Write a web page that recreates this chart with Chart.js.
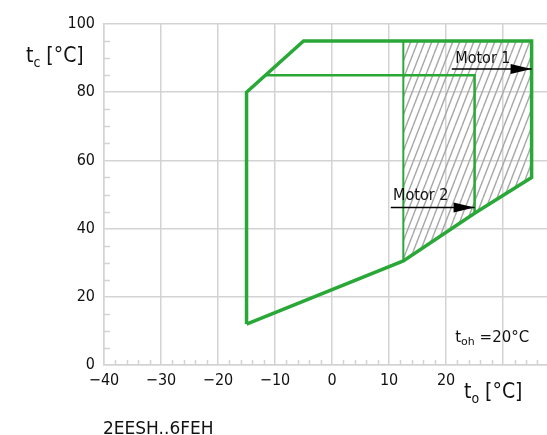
<!DOCTYPE html>
<html>
<head>
<meta charset="utf-8">
<script src="https://cdn.jsdelivr.net/npm/chart.js@4.4.0/dist/chart.umd.min.js"></script>
<style>
  html, body { margin: 0; padding: 0; background: #fff; }
  #wrap { position: relative; width: 547px; height: 435px; }
</style>
</head>
<body>
<div id="wrap"><canvas id="chart" width="547" height="435"></canvas></div>
<script>
// axis ticks
const xTicks = [-40, -30, -20, -10, 0, 10, 20, 30];
const yTicks = [0, 20, 40, 60, 80, 100];

// envelope for motor 1 (to, tc)
const motor1X = [-15, -15, -5, 35, 35, 25, 12.5, -15];
const motor1Y = [12, 80, 95, 95, 55, 44.5, 30.5, 12];
// motor 2 limit
const motor2X = [-11.7, 25, 25];
const motor2Y = [85, 85, 44.5];
// vertical divider
const dividerX = [12.5, 12.5];
const dividerY = [30.5, 95];
// hatched area
const hatchX = [12.5, 12.5, 35, 35, 25, 12.5];
const hatchY = [30.5, 95, 95, 55, 44.5, 30.5];
// arrows
const arrow1X = [21, 35];
const arrow1Y = [86.8, 86.8];
const arrow2X = [10.3, 25];
const arrow2Y = [46.2, 46.2];

const GREEN = '#2aa837';
const GRID = '#d3d3d3';
const FONT = "'DejaVu Sans Condensed', 'DejaVu Sans', sans-serif";
const FONT_WIDE = "'DejaVu Sans', sans-serif";

const pts = (xs, ys) => xs.map((x, i) => ({ x: x, y: ys[i] }));

const canvas = document.getElementById('chart');
const ctx = canvas.getContext('2d');

function hatchPattern() {
    const w = 7, h = 18;
    const c = document.createElement('canvas');
    c.width = w; c.height = h;
    const g = c.getContext('2d');
    g.strokeStyle = '#a8a8a8';
    g.lineWidth = 1.4;
    for (const dx of [-w, 0, w]) {
        g.beginPath();
        g.moveTo(dx, h);
        g.lineTo(dx + w, 0);
        g.stroke();
    }
    return ctx.createPattern(c, 'repeat');
}

// minor ticks along both axes
const minorTicks = {
    id: 'minorTicks',
    beforeDatasetsDraw(chart) {
        const { ctx, scales: { x, y }, chartArea } = chart;
        ctx.save();
        ctx.strokeStyle = GRID;
        ctx.lineWidth = 1.5;
        for (let v = -38; v < 38; v += 2) {
            if (v % 10 === 0) continue;
            const px = Math.round(x.getPixelForValue(v)) + 0.5;
            ctx.beginPath();
            ctx.moveTo(px, chartArea.bottom);
            ctx.lineTo(px, chartArea.bottom - 5);
            ctx.stroke();
        }
        for (let v = 5; v < 100; v += 5) {
            if (v % 20 === 0) continue;
            const py = Math.round(y.getPixelForValue(v)) + 0.5;
            ctx.beginPath();
            ctx.moveTo(chartArea.left, py);
            ctx.lineTo(chartArea.left + 6, py);
            ctx.stroke();
        }
        ctx.restore();
    }
};

function subText(c, x, y, main, sub, rest, size, subSize, family) {
    c.font = size + 'px ' + family;
    c.fillText(main, x, y);
    x += c.measureText(main).width;
    c.font = subSize + 'px ' + family;
    c.fillText(sub, x, y + size * 0.22);
    x += c.measureText(sub).width;
    c.font = size + 'px ' + family;
    c.fillText(rest, x, y);
}

// arrow heads and labels
const annotations = {
    id: 'annotations',
    afterDatasetsDraw(chart) {
        const { ctx, scales: { x, y } } = chart;
        ctx.save();
        chart.data.datasets.forEach((ds, i) => {
            if (!ds.arrowHead) return;
            const pts = chart.getDatasetMeta(i).data;
            const a = pts[0], b = pts[pts.length - 1];
            const ang = Math.atan2(b.y - a.y, b.x - a.x);
            ctx.save();
            ctx.translate(b.x, b.y);
            ctx.rotate(ang);
            ctx.fillStyle = '#000';
            ctx.beginPath();
            ctx.moveTo(0, 0);
            ctx.lineTo(-21, -5);
            ctx.lineTo(-21, 5);
            ctx.closePath();
            ctx.fill();
            ctx.restore();
        });

        ctx.fillStyle = '#111';
        ctx.textBaseline = 'alphabetic';
        ctx.textAlign = 'left';
        ctx.font = '16px ' + FONT;
        ctx.fillText('Motor 1', x.getPixelForValue(21.6), y.getPixelForValue(88.6));
        ctx.fillText('Motor 2', x.getPixelForValue(10.7), y.getPixelForValue(48.4));
        subText(ctx, x.getPixelForValue(21.6), y.getPixelForValue(6.7), 't', 'oh', ' =20°C', 15, 11, FONT_WIDE);

        // axis titles and footnote
        subText(ctx, 26, 62, 't', 'c', ' [°C]', 21, 14, FONT);
        subText(ctx, 464, 398, 't', 'o', ' [°C]', 21, 14, FONT);
        ctx.font = '17px ' + FONT_WIDE;
        ctx.fillText('2EESH..6FEH', 103, 434);
        ctx.restore();
    }
};

const lineDefaults = { fill: false, pointRadius: 0, tension: 0, borderJoinStyle: 'miter' };

new Chart(ctx, {
    type: 'line',
    data: {
        datasets: [
            Object.assign({}, lineDefaults, {
                label: 'Motor 1', data: pts(motor1X, motor1Y),
                borderColor: GREEN, borderWidth: 3.5, order: 1
            }),
            Object.assign({}, lineDefaults, {
                label: 'Motor 2', data: pts(motor2X, motor2Y),
                borderColor: GREEN, borderWidth: 2.5, order: 2
            }),
            Object.assign({}, lineDefaults, {
                label: 'divider', data: pts(dividerX, dividerY),
                borderColor: GREEN, borderWidth: 2, order: 2
            }),
            Object.assign({}, lineDefaults, {
                label: 'arrow 1', data: pts(arrow1X, arrow1Y),
                borderColor: '#000', borderWidth: 1.5, order: 0, arrowHead: true
            }),
            Object.assign({}, lineDefaults, {
                label: 'arrow 2', data: pts(arrow2X, arrow2Y),
                borderColor: '#000', borderWidth: 1.5, order: 0, arrowHead: true
            }),
            Object.assign({}, lineDefaults, {
                label: 'hatch', data: pts(hatchX, hatchY),
                borderWidth: 0, borderColor: 'rgba(0,0,0,0)',
                backgroundColor: hatchPattern(), fill: 'shape', order: 10
            })
        ]
    },
    options: {
        responsive: false,
        animation: false,
        devicePixelRatio: 1,
        layout: { padding: { top: 24, left: 0, right: 0, bottom: 0 } },
        plugins: { legend: { display: false }, tooltip: { enabled: false } },
        scales: {
            x: {
                type: 'linear',
                min: -40,
                max: 37.7,
                afterBuildTicks: s => { s.ticks = xTicks.map(v => ({ value: v })); },
                afterFit: s => { s.height = 70; },
                grid: { color: GRID, lineWidth: 1.5, drawTicks: false },
                border: { color: GRID, width: 1.5 },
                ticks: {
                    padding: 6,
                    color: '#111',
                    font: { family: FONT, size: 16 },
                    maxRotation: 0,
                    callback: v => v === 30 ? '' : (v < 0 ? '\u2212' + Math.abs(v) : String(v))
                }
            },
            y: {
                min: 0,
                max: 100,
                afterBuildTicks: s => { s.ticks = yTicks.map(v => ({ value: v })); },
                afterFit: s => { s.width = 104; },
                grid: { color: GRID, lineWidth: 1.5, drawTicks: false },
                border: { color: GRID, width: 1.5 },
                ticks: {
                    padding: 9,
                    color: '#111',
                    font: { family: FONT, size: 16 }
                }
            }
        }
    },
    plugins: [minorTicks, annotations]
});
</script>
</body>
</html>
